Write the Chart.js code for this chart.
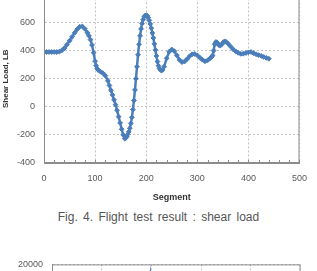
<!DOCTYPE html>
<html>
<head>
<meta charset="utf-8">
<script src="https://cdn.jsdelivr.net/npm/chart.js"></script>
<style>
  body { margin:0; background:#fff; }
  #page { position:relative; width:317px; height:271px; overflow:hidden; background:#fff; }
  #box1 { position:absolute; left:0; top:-20px; width:317px; height:230px; }
  #box2 { position:absolute; left:0; top:250px; width:317px; height:200px; }
  .cap { position:absolute; left:0; top:210px; width:317px; text-align:center;
         font:12px "Liberation Sans", Arial, sans-serif; color:#555; word-spacing:2px; }
</style>
</head>
<body>
<div id="page">
  <div id="box1"><canvas id="shear"></canvas></div>
  <div class="cap">Fig. 4. Flight test result : shear load</div>
  <div id="box2"><canvas id="next"></canvas></div>
</div>
<script>
// shear load (denser where the curve is steep)
var segment = [0,5,10,15,20,25,30,35,40,45,50,55,60,65,70,75,80,85,88,91,94,97,
  100,102,104,106,110,115,120,125,128,131,134,137,140,143,146,149,152,155,158,
  160,162,164,166,168,170,172,174,176,178,180,182,184,186,188,190,192,194,196,198,
  200,202,204,206,208,210,212,214,216,218,220,222,224,226,228,230,232,235,240,245,
  250,255,260,265,270,275,280,285,290,295,300,305,310,315,320,325,328,330,332,334,336,338,
  340,342,345,348,351,354,357,360,365,370,375,380,385,390,395,
  400,405,410,415,420,425,430,435,440];
var shearLoad = [390,390,390,390,390,390,392,402,418,442,470,498,527,552,570,572,555,527,505,478,440,385,
  325,292,272,262,252,240,222,185,152,118,85,50,15,-25,-70,-115,-160,-200,-226,
  -222,-212,-195,-178,-152,-118,-75,-20,45,120,200,285,370,445,505,555,592,620,640,650,
  652,648,635,615,590,560,525,490,448,405,362,322,292,272,262,259,262,285,345,392,
  408,396,366,335,318,322,340,360,374,376,366,350,335,324,330,345,355,365,400,445,460,460,
  452,440,435,445,460,466,460,450,430,410,395,384,377,378,383,
  388,390,382,374,368,362,355,348,342];
var xTicks = [0,100,200,300,400,500];
var yTicks = [-400,-200,0,200,400,600,800];

// second figure, only its top edge shows
var segment2 = [193,198,203];
var value2 = [11000,17000,11500];
var yTicks2 = [-20000,-10000,0,10000,20000];

var blue = '#4A7EBB';
var axisGray = '#8c8c8c';
var gridGray = '#c4c4c4';
var tickText = '#595959';

Chart.defaults.font.family = '"Liberation Sans", Arial, sans-serif';
Chart.defaults.font.size = 9;
Chart.defaults.color = tickText;

// plot frame + small inside ticks on x
var framePlugin = {
  id: 'frame',
  afterDatasetsDraw: function(chart, args, opts) {
    var a = chart.chartArea, c = chart.ctx, xs = chart.scales.x;
    c.save();
    c.strokeStyle = axisGray;
    c.lineWidth = 1;
    c.strokeRect(a.left + 0.5, a.top + 0.5, a.right - a.left - 1, a.bottom - a.top - 1);
    if (opts.minor) {
      c.beginPath();
      for (var v = xs.min; v <= xs.max; v += opts.minor) {
        var px = Math.round(xs.getPixelForValue(v)) + 0.5;
        c.moveTo(px, a.bottom);
        c.lineTo(px, a.bottom - 3);
      }
      c.stroke();
    }
    c.restore();
  }
};

function mkTicks(list) {
  return function(scale) { scale.ticks = list.map(function(v){ return {value: v}; }); };
}
function plain(v) { return String(v); }

var ctx1 = document.getElementById('shear').getContext('2d');
var chart1 = new Chart(ctx1, {
  type: 'scatter',
  data: {
    datasets: [{
      data: segment.map(function(s, i){ return {x: s, y: shearLoad[i]}; }),
      showLine: true,
      borderColor: blue,
      backgroundColor: blue,
      borderWidth: 2.5,
      pointStyle: 'rectRot',
      pointRadius: 2.4,
      pointBorderWidth: 1,
      pointHoverRadius: 2.4
    }]
  },
  options: {
    responsive: true,
    maintainAspectRatio: false,
    animation: false,
    layout: { padding: { top: 10, right: 10, left: 0, bottom: 0 } },
    plugins: { legend: { display: false }, tooltip: { enabled: false }, frame: { minor: 20 } },
    scales: {
      x: {
        type: 'linear', min: 0, max: 500,
        afterBuildTicks: mkTicks(xTicks),
        afterFit: function(s){ s.height = 47; },
        grid: { color: gridGray, drawTicks: false },
        border: { color: axisGray, dash: [2, 2] },
        ticks: { padding: 10, color: tickText, callback: plain },
        title: { display: true, text: 'Segment', color: '#333',
                 font: { size: 9, weight: 'bold' }, padding: { top: 0, bottom: 7 } }
      },
      y: {
        type: 'linear', min: -400, max: 800,
        afterBuildTicks: mkTicks(yTicks),
        afterFit: function(s){ s.width = 44; },
        grid: { color: gridGray, drawTicks: false },
        border: { color: axisGray, dash: [2, 2] },
        ticks: { padding: 9, color: tickText, callback: plain },
        title: { display: true, text: 'Shear Load, LB', color: '#333',
                 font: { size: 8, weight: 'bold' }, padding: { top: 1, bottom: 0 } }
      }
    }
  },
  plugins: [framePlugin]
});

var ctx2 = document.getElementById('next').getContext('2d');
var chart2 = new Chart(ctx2, {
  type: 'scatter',
  data: {
    datasets: [{
      data: segment2.map(function(s, i){ return {x: s, y: value2[i]}; }),
      showLine: true,
      borderColor: blue,
      backgroundColor: blue,
      borderWidth: 2.5,
      pointStyle: 'rectRot',
      pointRadius: 3.5
    }]
  },
  options: {
    responsive: true,
    maintainAspectRatio: false,
    animation: false,
    layout: { padding: { top: 8, right: 7, left: 0, bottom: 0 } },
    plugins: { legend: { display: false }, tooltip: { enabled: false }, frame: { minor: 0 } },
    scales: {
      x: {
        type: 'linear', min: 0, max: 500,
        afterBuildTicks: mkTicks(xTicks),
        afterFit: function(s){ s.height = 20; },
        grid: { color: gridGray, drawTicks: false },
        border: { color: axisGray, dash: [2, 2] },
        ticks: { padding: 9, callback: plain }
      },
      y: {
        type: 'linear', min: -20000, max: 20000,
        afterBuildTicks: mkTicks(yTicks2),
        afterFit: function(s){ s.width = 52; },
        grid: { color: gridGray, drawTicks: false },
        border: { color: axisGray, dash: [2, 2] },
        ticks: { padding: 9, color: tickText, callback: plain }
      }
    }
  },
  plugins: [framePlugin]
});
</script>
</body>
</html>
